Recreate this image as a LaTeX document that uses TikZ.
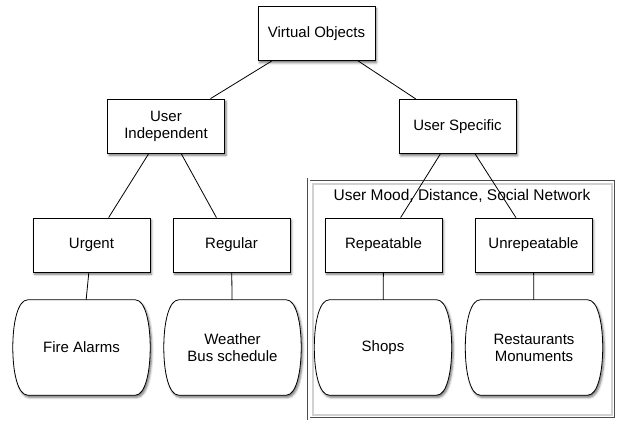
\documentclass[tikz,border=0pt]{standalone}
\usepackage{fontspec}
\setmainfont{Liberation Sans}
\usetikzlibrary{calc,shadows.blur,backgrounds}

% outline of a storage node, drawn behind its text
\newcommand{\barrel}[1]{%
  \begin{pgfonlayer}{background}
    \filldraw[outline] ($(#1.north west)+(15,0)$) -- ($(#1.north east)+(-15,0)$)
      .. controls +(10,0) and +(0,-25) .. (#1.east)
      .. controls +(0,25) and +(10,0) .. ($(#1.south east)+(-15,0)$)
      -- ($(#1.south west)+(15,0)$)
      .. controls +(-10,0) and +(0,25) .. (#1.west)
      .. controls +(0,-25) and +(-10,0) .. ($(#1.north west)+(15,0)$) -- cycle;
  \end{pgfonlayer}}

\begin{document}
\begin{tikzpicture}[x=1pt, y=-1pt,
    txt/.style={font=\fontsize{15}{17}\selectfont, align=center},
    shade/.style={blur shadow={shadow xshift=1.5pt, shadow yshift=-2.2pt,
      shadow blur radius=2.2pt, shadow opacity=55}},
    box/.style={txt, draw, fill=white, line width=0.8pt, shade,
      minimum width=117pt, minimum height=54pt},
    store/.style={txt, minimum width=137pt, minimum height=95pt},
    outline/.style={draw=black, fill=white, line width=0.8pt, shade},
    context/.style={draw=black!70, double=white, double distance=2pt,
      line width=0.9pt, minimum width=307pt, minimum height=239pt, inner sep=0pt},
    glow/.style={draw=black!18, line width=2pt, minimum width=299pt,
      minimum height=231pt, inner sep=0pt},
    link/.style={line width=0.8pt}]
        \useasboundingbox (0,0) rectangle (624,422);

        \node[glow] (ctxshade) at (462.5,299.5) {};
        \node[context] (ctx) at (462,299) {};
        \node[txt, font=\fontsize{15.5}{17}\selectfont] (mood) at (462,196) {User Mood, Distance, Social Network};

        \node[box] (virtual) at (316.5,33.5) {Virtual Objects};
        \node[box] (indep) at (166,126) {User\\Independent};
        \node[box] (specific) at (457.5,126.5) {User Specific};

        \node[box] (urgent) at (91.5,245) {Urgent};
        \node[box] (regular) at (231.5,245) {Regular};
        \node[box] (repeat) at (383.5,245) {Repeatable};
        \node[box] (unrepeat) at (533.5,245) {Unrepeatable};

        \node[store] (fire) at (81.5,347.5) {Fire Alarms};
        \node[store] (weather) at (232.5,347.5) {Weather\\Bus schedule};
        \node[store] (shops) at (383,347.5) {Shops};
        \node[store] (places) at (534,347.5) {Restaurants\\Monuments};
        \barrel{fire}
        \barrel{weather}
        \barrel{shops}
        \barrel{places}

        \draw[link] (virtual) -- (indep);
        \draw[link] (virtual) -- (specific);
        \draw[link] (indep) -- (urgent);
        \draw[link] (indep) -- (regular);
        \draw[link] (specific) -- (repeat);
        \draw[link] (specific) -- (unrepeat);
        \draw[link] (urgent) -- (fire);
        \draw[link] (regular) -- (weather);
        \draw[link] (repeat) -- (shops);
        \draw[link] (unrepeat) -- (places);
\end{tikzpicture}
\end{document}
